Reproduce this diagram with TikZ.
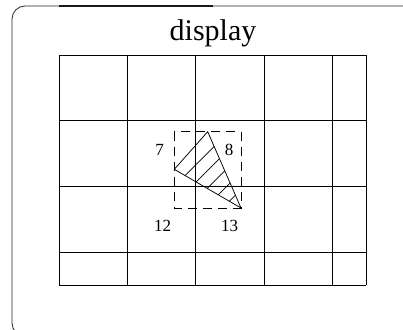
\documentclass[tikz,border=0pt]{standalone}
\usepackage{fontspec}
\setmainfont{Liberation Serif}
\begin{document}
\begin{tikzpicture}[x=1pt,y=-1pt,
  gridline/.style={draw=black, line width=0.8pt},
  framebox/.style={draw=black!85, line width=0.8pt, rounded corners=13pt},
  dashbox/.style={draw=black, line width=0.8pt, dash pattern=on 9pt off 6pt},
  tri/.style={draw=black, line width=0.75pt},
  hatch/.style={draw=black, line width=0.7pt},
  digit/.style={font=\fontsize{17}{17}\selectfont, inner sep=0pt},
  title/.style={font=\fontsize{30}{30}\selectfont, inner sep=0pt, anchor=base}]
\useasboundingbox (0,0) rectangle (403,329);
\begin{scope}
\clip (0,0) rectangle (403,329);
\draw[framebox] (12,6) rectangle (430,336);
\draw[line width=1.6pt, black!90] (59,6) -- (213,6);
\end{scope}
\node[title] (t) at (213,41) {display};
% grid
\foreach \x in {59,127,195,264,332,366} \draw[gridline] (\x,55) -- (\x,285);
\foreach \y in {55,120,186,252,285} \draw[gridline] (59,\y) -- (366,\y);
% triangle vertices
\coordinate (A) at (207.7,131.7);
\coordinate (B) at (174.3,169.3);
\coordinate (C) at (241,208);
\begin{scope}
\clip (A) -- (B) -- (C) -- cycle;
\foreach \c in {360.5,378,395.5,413,430.5,448} \draw[hatch] (\c-300,300) -- (\c-100,100);
\end{scope}
\draw[tri] (A) -- (B) -- (C) -- cycle;
\draw[dashbox] (174.3,131.7) rectangle (241,208);
\node[digit] (n7) at (159.5,149.5) {7};
\node[digit] (n8) at (229,150) {8};
\node[digit] (n12) at (162.5,226) {12};
\node[digit] (n13) at (229.5,226) {13};
\end{tikzpicture}
\end{document}
